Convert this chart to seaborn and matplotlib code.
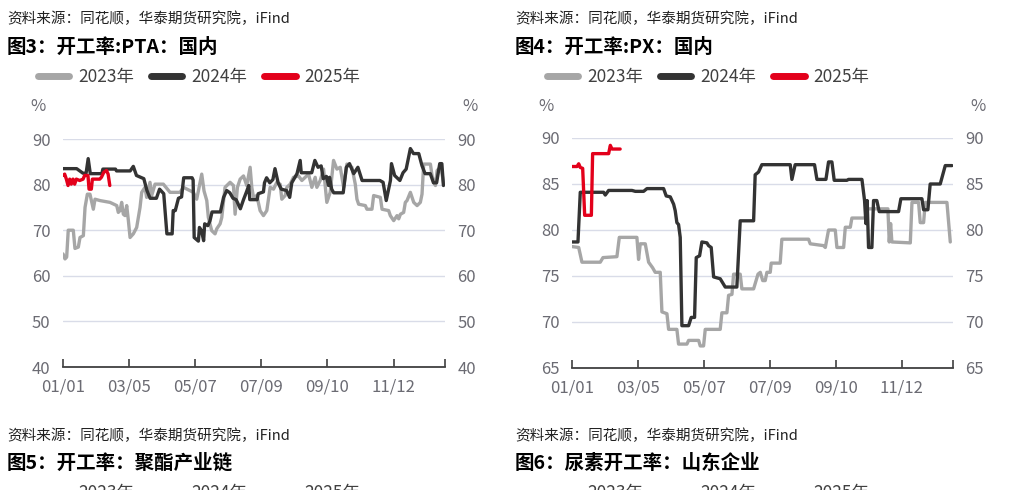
import pandas as pd
import seaborn as sns
import matplotlib.pyplot as plt
from matplotlib.lines import Line2D

sns.set_theme(style="white")
plt.rcParams["font.family"] = ["Noto Sans CJK SC", "DejaVu Sans"]

years = ["2023年", "2024年", "2025年"]
colors = ["#a6a6a6", "#333333", "#e3001b"]

tick_days = [0, 63, 126, 189, 252, 315, 364]
tick_labels = ["01/01", "03/05", "05/07", "07/09", "09/10", "11/12", ""]

# PTA domestic operating rate (day of year, %)
pta_2023_day = [0, 1.9, 3.5, 5, 9.8, 11.4, 14.6, 16.2, 19.4, 21, 23.2, 25.7, 28.9, 30.5, 35.2, 44.8,
                51.2, 52.7, 54.3, 55.9, 57.5, 59.1, 60.7, 62.3, 63.9, 67, 70.2, 73.4, 75, 78.1, 79.7,
                82.9, 84.5, 87.7, 95.6, 102, 111.5, 114.7, 124.2, 127.4, 129, 132.2, 134.4, 137,
                138.5, 141.7, 144.9, 146.5, 149.7, 151.3, 154.4, 159.2, 162.4, 164, 166.2, 168.8,
                172, 175.1, 178.3, 179.9, 181.5, 184.7, 187.8, 191, 194.2, 197.4, 200.6, 203.7,
                206.9, 208.5, 211.7, 213.3, 216.5, 219.6, 224.4, 227.6, 230.8, 234, 237.1, 240.3,
                241.9, 245.1, 248.3, 251.4, 254.6, 257.8, 261, 264.2, 267.4, 270.5, 275.3, 278.5,
                280.1, 281.7, 288.1, 289.6, 294.4, 296, 302.4, 304, 310.3, 311.9, 315.1, 318.3,
                319.9, 321.5, 324.6, 326.2, 327.8, 331, 334.2, 337.4, 340.5, 342.1, 343.7, 350.1,
                351.7, 353.3, 354.9, 356.5, 359.6, 361.2, 362.8]
pta_2023_val = [64.8, 63.7, 64.1, 70, 70, 66, 66.3, 68.4, 68.8, 75, 77.9, 77.9, 74.6, 76.8, 76.5, 76.1,
                75.4, 73.9, 74.3, 76.1, 73.5, 73.2, 75.4, 72.1, 68.4, 69.2, 70.6, 75, 78.3, 79.4, 77.2,
                80.5, 77.6, 80.1, 80.1, 78.3, 78.3, 79.4, 78.3, 76.8, 78.6, 82.3, 78.6, 76.5,
                72.8, 69.9, 69.2, 70.3, 71.4, 72.8, 79.4, 80.5, 79.8, 73.5, 79.4, 81.2,
                81.9, 79.8, 83.8, 79.4, 77.2, 77.6, 74.3, 73.2, 74.3, 79.4, 79, 80.5,
                80.1, 76.8, 77.6, 79.4, 80.1, 81.6, 81.9, 80.9, 81.6, 82.3, 79.4, 81.6,
                79.4, 80.9, 83.4, 76.1, 78.3, 85.3, 83.4, 83.8, 79.4, 84.5, 83.8, 80.1,
                76.8, 75.7, 75.4, 74.6, 74.6, 77.6, 77.2, 74.6, 74.3, 73.2, 72.1, 73.2,
                72.5, 73.5, 73.9, 76.1, 76.5, 78.3, 76.1, 75.4, 76.1, 77.9, 84.5, 84.5,
                81.9, 80.5, 79.8, 83.1, 83.8, 82.3, 80.1]

pta_2024_day = [0, 13, 19, 22, 24, 26, 37, 38, 50, 51, 64, 67, 70, 77, 80, 83, 89, 92, 96, 97, 99, 104,
                105, 107, 110, 113, 115, 123, 124, 125, 129, 130, 132, 134, 135, 138, 140, 142, 150,
                153, 156, 159, 162, 165, 169, 172, 175, 177, 178, 185, 186, 191, 192, 194, 197, 200,
                202, 205, 208, 213, 216, 218, 223, 226, 227, 237, 240, 243, 246, 248, 251, 253, 254,
                256, 258, 267, 270, 273, 277, 281, 285, 302, 305, 308, 312, 313, 316, 321, 324, 327,
                331, 334, 339, 342, 345, 350, 353, 356, 359, 361, 362.5]
pta_2024_val = [83.5, 83.5, 82.5, 82.5, 85.7, 82.4, 82.4, 83.4, 83.4, 83, 83, 84, 82, 81.3, 78.7, 77, 77,
                79, 78, 75, 69.2, 69.2, 74.3, 74.3, 77, 77.3, 81.5, 81.5, 81, 68.4, 67.6, 70.6, 69.9,
                67.7, 71.4, 71, 72, 74, 74, 77.2, 78.7, 78.2, 77, 76.7, 74.7, 76.7, 78.5, 79.8, 76.7,
                76.7, 78, 78.4, 80.4, 81.5, 80.4, 81.1, 83.5, 80.4, 79, 78.7, 77.2, 80.4, 82.4, 85.3,
                82.6, 82.6, 85.3, 83.8, 84.1, 81.3, 81.8, 79.8, 81.6, 79, 78.2, 78.2, 83.8, 84.6, 82.4,
                83.8, 80.9, 80.9, 80.5, 76.5, 80.9, 84.6, 82, 80.9, 82.6, 83.4, 87.9, 86.8, 86.8, 84.2,
                82.4, 82.4, 80.4, 80.4, 84.6, 84.6, 79.8]

pta_2025_day = [0, 1.6, 3.2, 4.8, 6.4, 7.9, 9.5, 11.1, 12.7, 15.9, 19.1, 20.6, 23.8, 24.8, 27, 28, 35,
                36.6, 38.9, 41.4, 43, 44.6]
pta_2025_val = [82, 82.3, 81.2, 79.8, 81.2, 80.1, 81.2, 80.1, 81.2, 80.9, 81.2, 82, 82, 79, 79, 81.2,
                81.2, 81.6, 82.7, 83.1, 82.3, 79.8]

# PX domestic operating rate (day of year, %)
px_2023_day = [0, 6.4, 9.5, 27, 29.6, 42.9, 45.2, 62, 63.6, 65.2, 70, 73.2, 77, 79.5, 84.3, 85.9, 90.7,
               92.3, 100.2, 101.8, 109.8, 111.4, 121, 122.5, 125.7, 127.3, 141.6, 143.2, 148, 149.6,
               152.8, 154.4, 160.7, 162.3, 173.5, 177.7, 179.9, 182.2, 184.6, 186.2, 189.4, 190.3,
               198.9, 200.5, 226, 227.6, 240.4, 242, 245.1, 251.5, 253.1, 259.5, 261.1, 265.9, 267.4,
               280.2, 281.8, 301.8, 303.1, 304.4, 305.6, 323.2, 324.8, 331.1, 332.7, 335.9, 337.5,
               358.2, 361.4]
px_2023_val = [78.2, 78.1, 76.5, 76.5, 77, 77.1, 79.2, 79.2, 76.8, 78.5, 78.5, 76.5, 75.9, 75.4, 75.4,
               71.1, 70.9, 69.2, 69.2, 67.6, 67.6, 68, 68, 67.4, 67.4, 69.2, 69.2, 71, 71, 72.9, 73,
               75.2, 75.2, 73.6, 73.6, 75.2, 75.4, 74.5, 74.5, 75.4, 75.4, 76.4, 76.4, 79, 79, 78.5,
               78.3, 78.1, 80, 80, 78.1, 78.1, 80.3, 80.3, 81.3, 81.3, 82.3, 82.3, 78.7, 80.7, 78.7,
               78.6, 83, 83, 80.8, 80.8, 83, 83, 78.7]

px_2024_day = [0, 5.7, 7.9, 30.2, 31.8, 35, 57.3, 60.5, 68.4, 71.6, 87.5, 90, 93.9, 97.1, 98.6, 100.2,
               101.8, 103.4, 105, 111.4, 113.9, 117.1, 118.7, 121.9, 124.1, 128.9, 130.5, 133, 135.3,
               141.6, 146.4, 157.5, 160.7, 173.5, 175, 178.2, 181.4, 208.5, 210.1, 213.2, 231.7, 234,
               242.6, 245.1, 248.3, 250.5, 262.6, 264.2, 277, 279.5, 280.8, 282, 283.3, 286.5, 288.1,
               291.2, 293.5, 312, 314.2, 334.3, 335.9, 340, 342.2, 351.8, 356.6, 363]
px_2024_val = [78.7, 78.7, 84.1, 84.1, 83.8, 84.3, 84.3, 84.2, 84.2, 84.5, 84.5, 83.7, 83.6, 82.8, 82.1,
               80.8, 80.6, 79.2, 69.6, 69.6, 70.5, 70.5, 77, 77.2, 78.7, 78.6, 78.3, 78.1, 74.9, 74.7,
               73.8, 73.8, 81, 81, 86, 86.3, 87.1, 87.1, 85.5, 87.1, 87.1, 85.5, 85.5, 87.4, 87.4,
               85.4, 85.4, 85.5, 85.5, 83.2, 80.7, 83.2, 78.1, 78.1, 83.2, 83.2, 82, 82, 83.4, 83.4,
               82.2, 82.2, 85, 85, 87, 87]

px_2025_day = [0, 4.8, 6.4, 7.9, 10.2, 12.1, 18.5, 19.7, 35, 36.6, 38.2, 46]
px_2025_val = [86.9, 86.9, 87.2, 86.8, 86.7, 81.6, 81.6, 88.3, 88.3, 89.2, 88.8, 88.8]


def make_df(days_list, vals_list):
    parts = []
    for yr, d, v in zip(years, days_list, vals_list):
        parts.append(pd.DataFrame({"day": d, "rate": v, "year": yr}))
    return pd.concat(parts, ignore_index=True)


pta = make_df([pta_2023_day, pta_2024_day, pta_2025_day], [pta_2023_val, pta_2024_val, pta_2025_val])
px = make_df([px_2023_day, px_2024_day, px_2025_day], [px_2023_val, px_2024_val, px_2025_val])

fig = plt.figure(figsize=(10.26, 4.9), dpi=100)
ax1 = fig.add_axes([63 / 1026, 1 - 367 / 490, 382 / 1026, 228 / 490])
ax2 = fig.add_axes([572 / 1026, 1 - 368 / 490, 381 / 1026, 230 / 490])

label_color = "#6b6b73"


def style(ax, df, ylim, yticks):
    sns.lineplot(data=df, x="day", y="rate", hue="year", hue_order=years,
                 palette=dict(zip(years, colors)), estimator=None, sort=False,
                 linewidth=2.4, legend=False, ax=ax)
    ax.set_xlim(0, 364)
    ax.set_ylim(*ylim)
    ax.set_yticks(yticks)
    ax.set_xticks(tick_days)
    ax.set_xticklabels(tick_labels)
    ax.set_xlabel("")
    ax.set_ylabel("")
    for s in ["top", "left", "right"]:
        ax.spines[s].set_visible(False)
    ax.spines["bottom"].set_color("#404040")
    ax.spines["bottom"].set_linewidth(1.3)
    ax.grid(axis="y", color="#d9dce8", linewidth=1)
    ax.set_axisbelow(True)
    ax.tick_params(axis="x", direction="in", length=6, width=1.2, color="#404040",
                   labelsize=12, labelcolor=label_color, pad=8, bottom=True)
    ax.tick_params(axis="y", length=0, labelsize=12, labelcolor=label_color, pad=9,
                   labelleft=True, labelright=True)


style(ax1, pta, (40, 90), [40, 50, 60, 70, 80, 90])
style(ax2, px, (65, 90), [65, 70, 75, 80, 85, 90])

src = "资料来源：同花顺，华泰期货研究院，iFind"
for x0, title in [(7, "图3：开工率:PTA：国内"), (515, "图4：开工率:PX：国内")]:
    fig.text(x0 / 1026, 1 - 19 / 490, src, fontsize=10.5, style="italic", va="center", color="#222222")
    fig.text(x0 / 1026, 1 - 47 / 490, title, fontsize=14, fontweight="bold", va="center", color="black")

for x0, title in [(7, "图5：开工率：聚酯产业链"), (515, "图6：尿素开工率：山东企业")]:
    fig.text(x0 / 1026, 1 - 436 / 490, src, fontsize=10.5, style="italic", va="center", color="#222222")
    fig.text(x0 / 1026, 1 - 463 / 490, title, fontsize=14, fontweight="bold", va="center", color="black")

handles = [Line2D([0], [0], color=c, lw=5, solid_capstyle="round") for c in colors]
for x0 in [38, 547]:
    fig.legend(handles, years, loc="center left", bbox_to_anchor=(x0 / 1026, 1 - 77 / 490),
               ncol=3, frameon=False, fontsize=12.5, borderpad=0, borderaxespad=0,
               handlelength=1.8, handletextpad=0.5, columnspacing=1.0, labelcolor="#404040")
    # next chart's legend, cut off at the bottom edge
    fig.legend(handles, years, loc="center left", bbox_to_anchor=(x0 / 1026, -0.006),
               ncol=3, frameon=False, fontsize=12.5, borderpad=0, borderaxespad=0,
               handlelength=1.8, handletextpad=0.5, columnspacing=1.0, labelcolor="#404040")

for x0 in [38, 470, 546, 978]:
    fig.text(x0 / 1026, 1 - 106 / 490, "%", fontsize=12, color=label_color, ha="center", va="center")

fig.savefig("out.png", dpi=100)
